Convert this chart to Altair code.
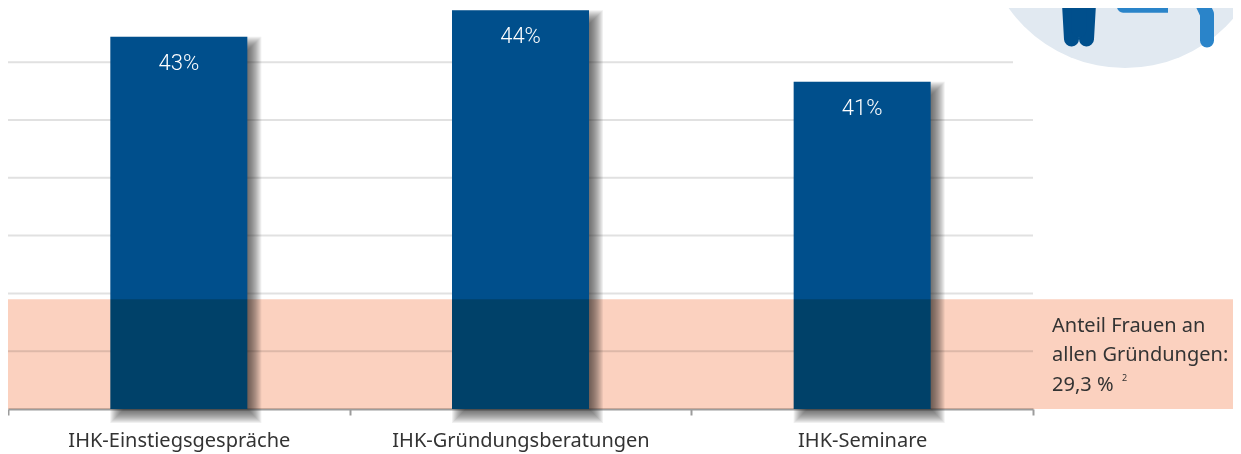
import altair as alt
import pandas as pd

categories = ["IHK-Einstiegsgespräche", "IHK-Gründungsberatungen", "IHK-Seminare"]
bar_heights = [64.4, 69.0, 56.6]
bar_labels = ["43%", "44%", "41%"]
band_top = 19.0
grid_levels = [10, 20, 30, 40, 50, 60, 70]
grid_ends = [1025, 1025, 1025, 1025, 1025, 1005, 963]
note_lines = ["Anteil Frauen an", "allen Gründungen:", "29,3 %"]
note_levels = [13.3, 8.3, 3.1]

NAVY = "#004F8C"
df = pd.DataFrame({"cat": categories, "h": bar_heights, "lab": bar_labels})
bandscale = alt.Scale(type="band", padding=0)
xb_plain = alt.X("cat:N", sort=categories, title=None, scale=bandscale, axis=None)
xb = alt.X("cat:N", sort=categories, title=None, scale=bandscale,
           axis=alt.Axis(labelAngle=0, labelFontSize=20, labelFont="Noto Sans", labelColor="#333333",
                         labelPadding=15, labelLimit=0, domainColor="#9C9C9C", domainWidth=2, tickColor="#9C9C9C",
                         tickWidth=2, tickSize=6, tickBand="extent", grid=False, ticks=True))
yq = alt.Y("h:Q", title=None, axis=None, scale=alt.Scale(domain=[0, 69.38], nice=False))
xpx = alt.Scale(domain=[0, 1025], range=[0, 1025], nice=False, zero=False)
ypx = alt.Scale(domain=[0, 69.38], nice=False)


def px(name):
    return alt.X(name + ":Q", scale=xpx, axis=None, title=None)


def py(name):
    return alt.Y(name + ":Q", scale=ypx, axis=None, title=None)


grid = alt.Chart(pd.DataFrame({"y": grid_levels, "x0": [0] * 7, "x1": grid_ends})).mark_rule(
    color="#E1E1E1", strokeWidth=2, clip=False
).encode(x=px("x0"), x2="x1:Q", y=py("y"))

circle = alt.Chart(pd.DataFrame({"x": [1117], "y": [(401 + 83) / 5.78]})).mark_point(
    filled=True, color="#E1E9F1", size=81796, opacity=1, clip=False
).encode(x=px("x"), y=py("y"))


def limb(xs, ys, color, w):
    d = pd.DataFrame({"x": xs, "y": [(401 - (v - 8)) / 5.78 for v in ys], "o": list(range(len(xs)))})
    return alt.Chart(d).mark_line(color=color, strokeWidth=w, strokeCap="round", strokeJoin="round", clip=False).encode(
        x=px("x"), y=py("y"), order="o:Q")


icon = [
    limb([1061, 1063.5], [-5, 39], NAVY, 15),
    limb([1081, 1078.5], [-5, 39], NAVY, 15),
    limb([1071, 1071], [-5, 30], NAVY, 15),
    limb([1199, 1199, 1191], [40.5, 14, -3], "#2A84C9", 14),
]
arm = alt.Chart(pd.DataFrame({"x": [1109], "x2": [1160], "y": [(401 + 8) / 5.78], "y2": [(401 - 4.7) / 5.78]})).mark_bar(
    color="#2A84C9", cornerRadiusBottomLeft=6, clip=False).encode(x=px("x"), x2="x2:Q", y=py("y"), y2="y2:Q")

shadow = []
for r in range(7, -8, -1):
    shadow.append(alt.Chart(df).mark_bar(
        width=137 + 2 * r, color="#2E2E2E", opacity=0.07, xOffset=7, yOffset=7 - r, y2Offset=7 + r, clip=False
    ).encode(x=xb_plain, y=yq, y2=alt.datum(0)))

bars = alt.Chart(df).mark_bar(width=137, color=NAVY).encode(x=xb, y=yq, y2=alt.datum(0))
labels = alt.Chart(df).mark_text(color="white", font="Roboto", fontSize=22, fontWeight=300, baseline="alphabetic", dy=33).encode(
    x=xb_plain, y=yq, text="lab:N")

band = alt.Chart(pd.DataFrame({"x": [0], "x2": [1225], "y": [band_top], "y2": [0]})).mark_rect(
    color="#FBD1BF", blend="multiply", clip=False).encode(x=px("x"), x2="x2:Q", y=py("y"), y2="y2:Q")

notes = alt.Chart(pd.DataFrame({"x": [1044] * 3, "y": note_levels, "t": note_lines})).mark_text(
    align="left", baseline="alphabetic", font="Noto Sans", fontSize=20, color="#333333", clip=False
).encode(x=px("x"), y=py("y"), text="t:N")
sup = alt.Chart(pd.DataFrame({"x": [1114], "y": [4.9], "t": ["2"]})).mark_text(
    align="left", baseline="alphabetic", font="Noto Sans", fontSize=9, color="#333333", clip=False
).encode(x=px("x"), y=py("y"), text="t:N")

chart = alt.layer(grid, circle, *icon, arm, *shadow, bars, labels, band, notes, sup).resolve_scale(
    x="independent", y="shared"
).properties(
    width=1025, height=401,
    padding={"left": 0, "top": 0, "right": 200, "bottom": 45},
    autosize=alt.AutoSizeParams(type="none"),
    background="white",
).configure_view(stroke=None)

chart.save("out.html", embed_options={"renderer": "svg", "actions": False})
